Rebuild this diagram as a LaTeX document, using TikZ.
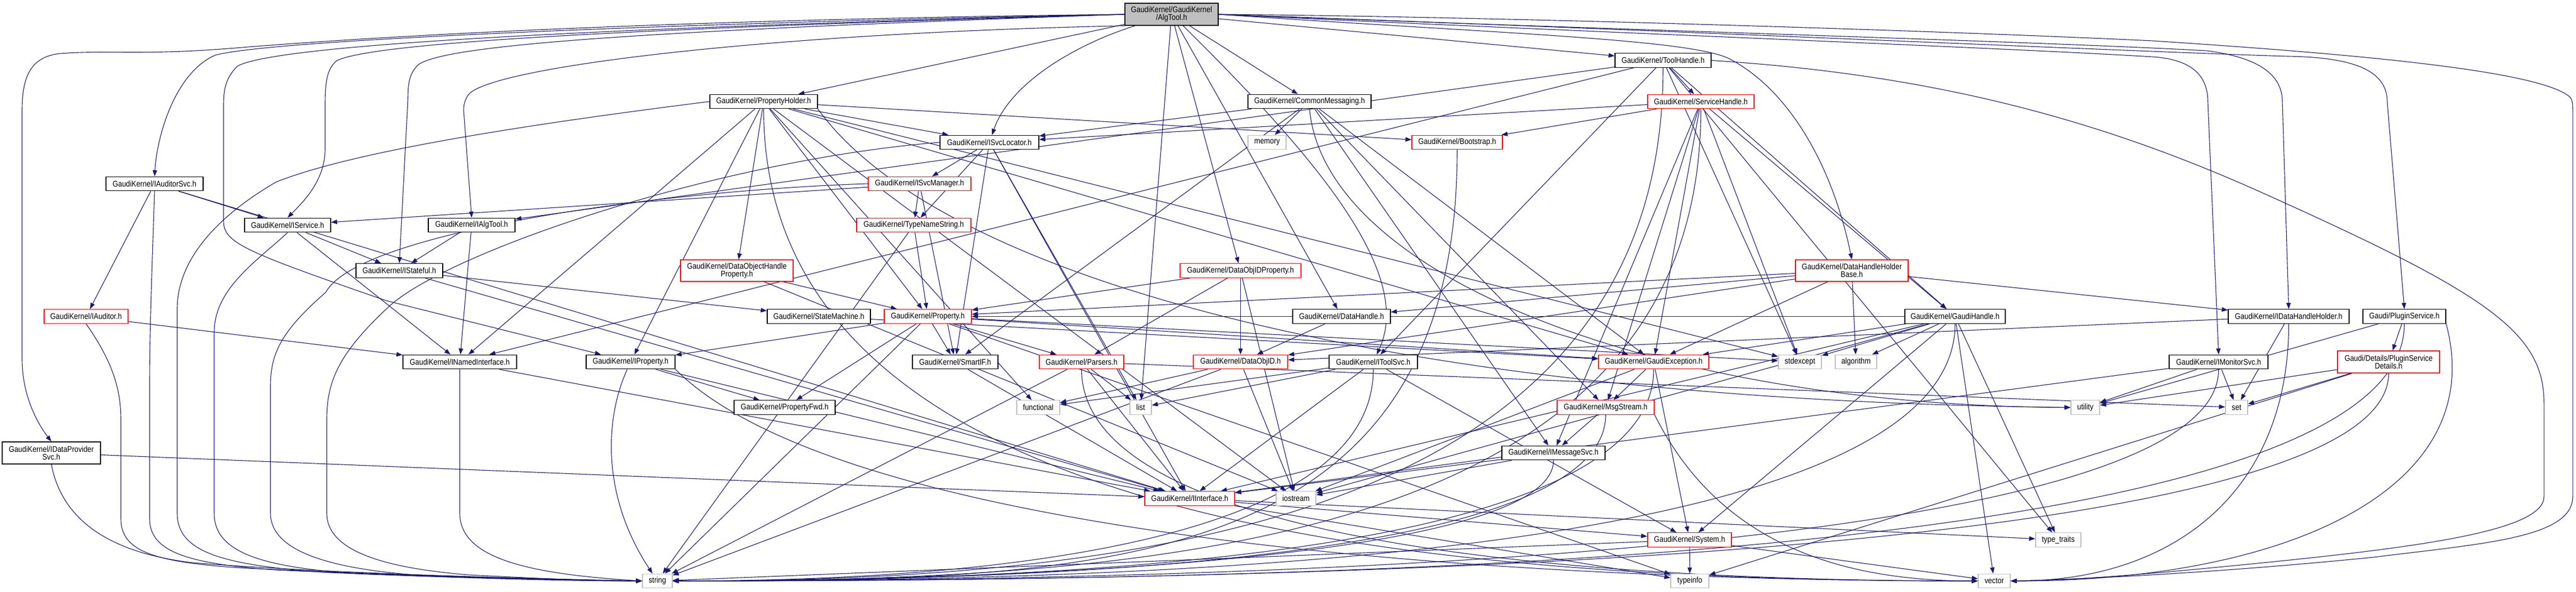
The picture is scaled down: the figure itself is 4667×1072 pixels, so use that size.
\documentclass[tikz,border=0pt]{standalone}
\usepackage{fontspec}
\setmainfont{Liberation Sans}[FakeStretch=0.87]
\usetikzlibrary{arrows.meta}
\definecolor{edgec}{HTML}{191970}
\definecolor{extc}{HTML}{BFBFBF}
\pgfdeclarelayer{bg}
\pgfsetlayers{bg,main}
\begin{document}
\begin{tikzpicture}[x=1bp,y=-1bp,
 box/.style={rectangle, fill=white, inner sep=0pt, minimum height=25.5bp, font=\fontsize{14.8bp}{14bp}\selectfont, align=center},
 nb/.style={box, draw=black, line width=1.4bp},
 nr/.style={box, draw=red, line width=1.4bp},
 ng/.style={box, draw=extc, line width=1.4bp},
 nroot/.style={box, draw=black, fill=extc, line width=1.4bp},
 e/.style={draw=edgec, line width=1.1bp, -{Triangle[length=11bp,width=8bp]}}]
\useasboundingbox (0,0) rectangle (4667,1072);

\node[nroot, minimum width=169bp, minimum height=40bp] (root) at (2122.5,26) {GaudiKernel/GaudiKernel\\/AlgTool.h};
\node[nb, minimum width=174bp] (TH) at (3013,109.5) {GaudiKernel/ToolHandle.h};
\node[nb, minimum width=195bp] (PH) at (1383.5,184) {GaudiKernel/PropertyHolder.h};
\node[nb, minimum width=223bp] (CM) at (2372.5,184) {GaudiKernel/CommonMessaging.h};
\node[nr, minimum width=193bp] (SH) at (3081.5,184) {GaudiKernel/ServiceHandle.h};
\node[nb, minimum width=179bp] (SL) at (1792.5,258) {GaudiKernel/ISvcLocator.h};
\node[ng, minimum width=69bp] (MEM) at (2295.5,258) {memory};
\node[nr, minimum width=164bp] (BS) at (2640,258) {GaudiKernel/Bootstrap.h};
\node[nb, minimum width=176bp] (IAS) at (280,333) {GaudiKernel/IAuditorSvc.h};
\node[nr, minimum width=186bp] (SM) at (1666,333) {GaudiKernel/ISvcManager.h};
\node[nb, minimum width=156bp] (ISV) at (521,408) {GaudiKernel/IService.h};
\node[nb, minimum width=157bp] (IAT) at (854.5,408) {GaudiKernel/IAlgTool.h};
\node[nr, minimum width=207bp] (TNS) at (1655.5,408) {GaudiKernel/TypeNameString.h};
\node[nb, minimum width=157bp] (IST) at (723.5,490.5) {GaudiKernel/IStateful.h};
\node[nr, minimum width=204bp, minimum height=39bp] (DOHP) at (1335,490.5) {GaudiKernel/DataObjectHandle\\Property.h};
\node[nr, minimum width=219bp] (DOIP) at (2247.5,490.5) {GaudiKernel/DataObjIDProperty.h};
\node[nr, minimum width=204bp, minimum height=39bp] (DHHB) at (3355,490.5) {GaudiKernel/DataHandleHolder\\Base.h};
\node[nr, minimum width=152bp] (IAU) at (156,573.5) {GaudiKernel/IAuditor.h};
\node[nb, minimum width=187bp] (STM) at (1483.5,573.5) {GaudiKernel/StateMachine.h};
\node[nr, minimum width=158bp] (PROP) at (1681,573.5) {GaudiKernel/Property.h};
\node[nb, minimum width=177bp] (DH) at (2430.5,573.5) {GaudiKernel/DataHandle.h};
\node[nb, minimum width=182bp] (GH) at (3542,573.5) {GaudiKernel/GaudiHandle.h};
\node[nb, minimum width=219bp] (IDHH) at (4146.5,573.5) {GaudiKernel/IDataHandleHolder.h};
\node[nb, minimum width=150bp] (PS) at (4356,573.5) {Gaudi/PluginService.h};
\node[nb, minimum width=206bp] (INI) at (833,656) {GaudiKernel/INamedInterface.h};
\node[nb, minimum width=161bp] (IP) at (1142.5,656) {GaudiKernel/IProperty.h};
\node[nb, minimum width=155bp] (SIF) at (1730.5,656) {GaudiKernel/SmartIF.h};
\node[nr, minimum width=153bp] (PARS) at (1959.5,656) {GaudiKernel/Parsers.h};
\node[nr, minimum width=171bp] (DOID) at (2247.5,656) {GaudiKernel/DataObjID.h};
\node[nb, minimum width=160bp] (ITS) at (2488,656) {GaudiKernel/IToolSvc.h};
\node[nr, minimum width=200bp] (GE) at (2996,656) {GaudiKernel/GaudiException.h};
\node[ng, minimum width=78bp] (STDX) at (3261,656) {stdexcept};
\node[ng, minimum width=75bp] (ALG) at (3362.5,656) {algorithm};
\node[nb, minimum width=179bp] (IMON) at (4019.5,656) {GaudiKernel/IMonitorSvc.h};
\node[nr, minimum width=185bp, minimum height=40bp] (PSD) at (4327.5,656) {Gaudi/Details/PluginService\\Details.h};
\node[nb, minimum width=183bp] (PFWD) at (1421.5,738.5) {GaudiKernel/PropertyFwd.h};
\node[ng, minimum width=78bp] (FUN) at (1881,738.5) {functional};
\node[ng, minimum width=39bp] (LIST) at (2066.5,738.5) {list};
\node[nr, minimum width=176bp] (MS) at (2909,738.5) {GaudiKernel/MsgStream.h};
\node[ng, minimum width=52bp] (UTIL) at (3778,738.5) {utility};
\node[ng, minimum width=40bp] (SET) at (4052,738.5) {set};
\node[nb, minimum width=178bp, minimum height=40bp] (IDPS) at (93,821) {GaudiKernel/IDataProvider\\Svc.h};
\node[nb, minimum width=187bp] (IMS) at (2814.5,821) {GaudiKernel/IMessageSvc.h};
\node[nr, minimum width=163bp] (IIF) at (2155.5,903.5) {GaudiKernel/IInterface.h};
\node[ng, minimum width=72bp] (IOS) at (2348,903.5) {iostream};
\node[nr, minimum width=152bp] (SYS) at (3061,978.5) {GaudiKernel/System.h};
\node[ng, minimum width=82bp] (TT) at (3729,978.5) {type\_traits};
\node[ng, minimum width=54bp] (STR) at (1191,1053) {string};
\node[ng, minimum width=69bp] (TI) at (3061.5,1053) {typeinfo};
\node[ng, minimum width=58bp] (VEC) at (3613,1053) {vector};

\begin{pgfonlayer}{bg}
\foreach \a/\b in {root/PH, root/CM, root/TH, root/DOIP, root/DH, root/LIST,
 TH/SH, TH/GH, TH/IAT, TH/ITS, TH/INI, TH/STDX, TH/TT,
 SH/GE, SH/GH, SH/IMS, SH/SL, SH/MS, SH/BS, SH/STDX,
 CM/SL, CM/MEM, CM/IMS, CM/MS, CM/GE, CM/SIF,
 PH/BS, PH/DOHP, PH/SL, PH/IP, PH/PROP, PH/GE, PH/IOS, PH/FUN, PH/STDX, PH/INI,
 SL/SM, SL/TNS, SL/SIF, SL/IIF, SL/LIST,
 SM/TNS, SM/SIF, SM/ISV,
 TNS/PROP, TNS/STR,
 IAS/ISV, IAS/IAU, IAS/IIF,
 ISV/IST, ISV/INI, IAT/IST, IAT/INI, IST/STM, IST/IIF, IAU/INI, IDPS/IIF, INI/IIF,
 IP/PFWD, IP/IIF, STM/GE,
 PROP/IP, PROP/PARS, PROP/PFWD, PROP/SIF, PROP/STR, PROP/STDX, PROP/GE, PROP/TI,
 DOHP/PROP, DOHP/IOS, DOIP/PROP, DOIP/DOID, DOIP/IOS, DOIP/PARS,
 DHHB/IDHH, DHHB/DOID, DHHB/DH, DHHB/PROP, DHHB/GE, DHHB/ALG,
 PARS/LIST, PARS/STR, PARS/SET, PARS/IIF, SIF/IIF,
 DOID/STR, DOID/IOS, DOID/FUN, DH/DOID,
 ITS/FUN, ITS/LIST, ITS/IIF, ITS/SYS,
 GE/IOS, GE/MS, GE/SYS, MS/IMS, IMS/IOS, IMS/IIF,
 IIF/SYS, IIF/TT, IIF/TI, SYS/TI, SYS/STR, SYS/VEC,
 GH/STDX, GH/ALG, GH/GE, GH/PROP, GH/IIF, GH/SYS, GH/TT, GH/IOS, GH/VEC,
 IDHH/DOID, IDHH/SET, IMON/SET, IMON/UTIL, IMON/IIF,
 PS/PSD, PS/UTIL, PSD/SET, PSD/UTIL, PSD/TI}
 \draw[e] (\a) -- (\b);

% root routed edges
\draw[e] (root.west) .. controls (1500,32) and (900,50) .. (450,85) .. controls (260,102) and (200,90) .. (110,97) .. controls (55,102) and (40,140) .. (40,200) -- (40,650) .. controls (40,720) and (70,770) .. (IDPS.north);
\draw[e] (root.west) .. controls (1300,40) and (500,70) .. (390,100) .. controls (320,130) and (285,240) .. (IAS.north);
\draw[e] (root.west) .. controls (1200,50) and (680,75) .. (610,110) .. controls (592,125) and (589,150) .. (589,190) -- (589,270) .. controls (589,330) and (545,370) .. (ISV.north);
\draw[e] (root.west) .. controls (1200,55) and (790,80) .. (755,120) .. controls (742,135) and (739,150) .. (739,180) -- (IST.north);
\draw[e] (root.south west) .. controls (1400,60) and (900,120) .. (850,170) .. controls (842,180) and (840,190) .. (840,200) -- (IAT.north);
\draw[e] (root.west) .. controls (1100,50) and (500,80) .. (430,120) .. controls (410,140) and (405,160) .. (405,190) -- (405,400) .. controls (405,440) and (440,455) .. (700,545) -- (IP);
\draw[e] (root) .. controls (1950,80) and (1830,150) .. (SL);
\draw[e] (root) .. controls (2400,300) and (2560,500) .. (ITS);
\draw[e] (root.east) .. controls (2700,60) and (3050,70) .. (3130,105) .. controls (3240,160) and (3320,300) .. (DHHB.north);
\draw[e] (root.east) .. controls (2800,55) and (3600,85) .. (3900,103) .. controls (3975,108) and (4000,140) .. (4000,185) -- (IMON.north);
\draw[e] (root.east) .. controls (2800,50) and (3700,75) .. (3998,92) .. controls (4100,105) and (4135,140) .. (4135,185) -- (IDHH.north);
\draw[e] (root.east) .. controls (2900,50) and (3900,95) .. (4145,102) .. controls (4270,104) and (4325,130) .. (4325,185) -- (PS.north);
\draw[e] (root.east) .. controls (2700,30) and (3500,55) .. (3900,74) .. controls (4300,100) and (4600,130) .. (4655,175) .. controls (4661,180) and (4661,190) .. (4661,200) -- (4661,900) .. controls (4661,975) and (4500,985) .. (4300,1010) .. controls (4000,1040) and (3760,1050) .. (VEC.east);
\draw[e] (TH.east) .. controls (3500,135) and (3800,215) .. (4100,350) .. controls (4500,530) and (4609,600) .. (4609,730) -- (4609,900) .. controls (4609,960) and (4400,990) .. (4100,1020) .. controls (3900,1040) and (3760,1052) .. (VEC.east);

% to string, left side
\draw[e] (IDPS.south) .. controls (110,930) and (180,1000) .. (350,1020) .. controls (600,1040) and (1000,1050) .. (STR.west);
\draw[e] (IAU.south) .. controls (200,650) and (219,700) .. (219,760) -- (219,940) .. controls (219,1000) and (280,1020) .. (450,1030) .. controls (700,1042) and (1000,1050) .. (STR.west);
\draw[e] (IAS.south) .. controls (275,500) and (271,600) .. (271,700) -- (271,940) .. controls (271,1000) and (340,1022) .. (500,1033) .. controls (750,1045) and (1000,1050) .. (STR.west);
\draw[e] (PH.west) .. controls (1000,220) and (650,270) .. (500,330) .. controls (380,400) and (321,480) .. (321,560) -- (321,930) .. controls (321,1000) and (400,1025) .. (600,1038) .. controls (850,1048) and (1050,1052) .. (STR.west);
\draw[e] (ISV.south) .. controls (470,470) and (390,520) .. (388,600) -- (388,930) .. controls (388,1000) and (470,1028) .. (650,1040) .. controls (900,1050) and (1050,1053) .. (STR.west);
\draw[e] (SM.west) .. controls (1200,345) and (650,420) .. (590,530) .. controls (510,600) and (490,640) .. (490,700) -- (490,930) .. controls (490,1000) and (600,1030) .. (750,1042) .. controls (950,1050) and (1080,1053) .. (STR.west);
\draw[e] (SL.west) .. controls (1300,290) and (800,460) .. (700,560) .. controls (615,640) and (592,690) .. (592,760) -- (592,930) .. controls (592,1000) and (700,1030) .. (850,1042) .. controls (1000,1050) and (1100,1053) .. (STR.west);
\draw[e] (INI.south) -- (833,930) .. controls (833,1010) and (950,1040) .. (STR.west);
\draw[e] (IP) .. controls (1095,760) and (1090,900) .. (STR);

% to string, right side
\draw[e] (BS.south) .. controls +(0,760) and +(800,0) .. (STR.east);
\draw[e] (ITS.south) .. controls +(0,330) and +(500,0) .. (STR.east);
\draw[e] (GE.south) .. controls +(0,340) and +(700,0) .. (STR.east);
\draw[e] (MS.south) .. controls +(0,260) and +(700,0) .. (STR.east);
\draw[e] (IMS.south) .. controls +(0,180) and +(600,0) .. (STR.east);
\draw[e] (GH.south) .. controls +(0,420) and +(900,0) .. (STR.east);
\draw[e] (TH.south) .. controls +(0,800) and +(900,0) .. (STR.east);
\draw[e] (SH.south) .. controls +(0,780) and +(900,0) .. (STR.east);
\draw[e] (IMON.south) .. controls +(0,340) and +(1000,0) .. (STR.east);
\draw[e] (PS.south) .. controls +(0,430) and +(1200,0) .. (STR.east);
\draw[e] (PSD.south) .. controls +(0,340) and +(1100,0) .. (STR.east);

% to vector
\draw[e] (PH.south) .. controls +(0,700) and +(-1200,0) .. (VEC.west);
\draw[e] (IP.south east) .. controls +(300,300) and +(-900,0) .. (VEC.west);
\draw[e] (PARS.south) .. controls +(0,300) and +(-800,0) .. (VEC.west);
\draw[e] (MS.south east) .. controls +(100,200) and +(-300,0) .. (VEC.west);
\draw[e] (IDHH.south) .. controls +(0,300) and +(300,0) .. (VEC.east);
\draw[e] (PS.south east) .. controls +(80,300) and +(500,0) .. (VEC.east);

% to utility
\draw[e] (PH.south east) .. controls (1700,500) and (2500,725) .. (UTIL.west);
\draw[e] (CM.south) .. controls (2400,500) and (3000,735) .. (UTIL.west);
\end{pgfonlayer}
\end{tikzpicture}
\end{document}
